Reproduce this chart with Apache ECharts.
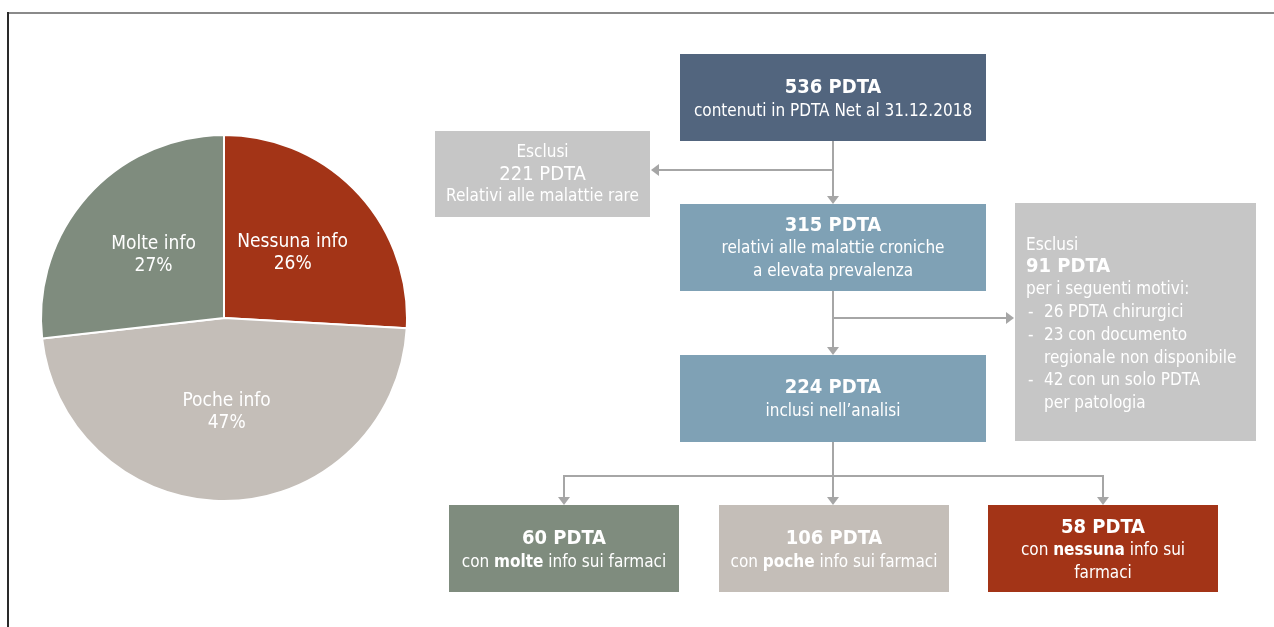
<!DOCTYPE html>
<html>
<head>
<meta charset="utf-8">
<script src="https://cdn.jsdelivr.net/npm/echarts@6/dist/echarts.min.js"></script>
<style>
  html, body { margin: 0; padding: 0; background: #fff; }
  #chart { width: 1274px; height: 627px; }
</style>
</head>
<body>
<div id="chart"></div>
<script>
// dati della torta (numero di PDTA per livello di informazione)
const sliceNames = ['Nessuna info', 'Poche info', 'Molte info'];
const sliceCounts = [58, 106, 60];

// testi del diagramma di flusso
const topBoxLines = ['536 PDTA', 'contenuti in PDTA Net al 31.12.2018'];
const excl1Lines = ['Esclusi', '221 PDTA', 'Relativi alle malattie rare'];
const chronicLines = ['315 PDTA', 'relativi alle malattie croniche', 'a elevata prevalenza'];
const excl2Lines = ['Esclusi', '91 PDTA', 'per i seguenti motivi:'];
const excl2Reasons = [
    ['26 PDTA chirurgici'],
    ['23 con documento', 'regionale non disponibile'],
    ['42 con un solo PDTA', 'per patologia']
];
const includedLines = ['224 PDTA', 'inclusi nell\u2019analisi'];
const resultCounts = ['60 PDTA', '106 PDTA', '58 PDTA'];
const resultWords = ['molte', 'poche', 'nessuna'];

// colori
const colors = {
    nessuna: '#a33417',
    poche: '#c4beb8',
    molte: '#7f8c7e',
    top: '#52657e',
    blue: '#7fa1b5',
    grey: '#c6c6c6',
    arrow: '#a6a6a6'
};
const sliceColors = [colors.nessuna, colors.poche, colors.molte];
const FONT = "'Liberation Sans Narrow', 'DejaVu Sans Condensed', sans-serif";

const chart = echarts.init(document.getElementById('chart'));

// rettangolo con testo centrato
function box(x, y, w, h, fill, text, rich, dy) {
    return {
        type: 'group',
        children: [
            { type: 'rect', shape: { x: x, y: y, width: w, height: h }, style: { fill: fill } },
            {
                type: 'text',
                x: x + w / 2,
                y: y + h / 2 + (dy || 0),
                style: {
                    text: text,
                    rich: rich,
                    fill: '#fff',
                    font: '17px ' + FONT,
                    lineHeight: 23,
                    align: 'center',
                    verticalAlign: 'middle'
                }
            }
        ]
    };
}

function line(points, color, width) {
    return { type: 'polyline', shape: { points: points }, style: { stroke: color || colors.arrow, lineWidth: width || 2, fill: null } };
}

// punta di freccia: dir = 'down' | 'left' | 'right'
function head(x, y, dir) {
    let pts;
    if (dir === 'down') pts = [[x - 6, y - 8], [x + 6, y - 8], [x, y]];
    else if (dir === 'left') pts = [[x + 8, y - 6], [x + 8, y + 6], [x, y]];
    else pts = [[x - 8, y - 6], [x - 8, y + 6], [x, y]];
    return { type: 'polygon', shape: { points: pts }, style: { fill: colors.arrow } };
}

const richBold = {
    b: { fontFamily: FONT, fontSize: 20, fontWeight: 'bold', fill: '#fff', lineHeight: 24 },
    n: { fontFamily: FONT, fontSize: 17, fill: '#fff', lineHeight: 23 },
    s: { fontFamily: FONT, fontSize: 17, fontWeight: 'bold', fill: '#fff', lineHeight: 23 }
};

function titled(lines) {
    return '{b|' + lines[0] + '}\n' + lines.slice(1).map(function(l) { return '{n|' + l + '}'; }).join('\n');
}

function plain(x, y, txt, size, bold) {
    return {
        type: 'text', x: x, y: y,
        style: {
            text: txt, fill: '#fff', fontFamily: FONT, fontSize: size,
            fontWeight: bold ? 'bold' : 'normal', align: 'left', verticalAlign: 'middle'
        }
    };
}

const cx = 833;
const graphic = [
    // cornice
    line([[7, 13], [1274, 13]], '#8a8a8a', 2),
    line([[8, 12], [8, 627]], '#2a2a2a', 2),
    // riquadri
    box(680, 54, 306, 87, colors.top, titled(topBoxLines), richBold, 2),
    box(435, 131, 215, 86, colors.grey,
        '{n|' + excl1Lines[0] + '}\n{b|' + excl1Lines[1] + '}\n{n|' + excl1Lines[2] + '}',
        { b: { fontFamily: FONT, fontSize: 20, fill: '#fff', lineHeight: 22 }, n: { fontFamily: FONT, fontSize: 17, fill: '#fff', lineHeight: 22 } }, 1),
    box(680, 204, 306, 87, colors.blue, titled(chronicLines), richBold, 1),
    box(680, 355, 306, 87, colors.blue, titled(includedLines), richBold, 1),
    { type: 'rect', shape: { x: 1015, y: 203, width: 241, height: 238 }, style: { fill: colors.grey } },
    plain(1026, 246, excl2Lines[0], 17),
    plain(1026, 267, excl2Lines[1], 20, true),
    plain(1026, 290, excl2Lines[2], 17)
];

// motivi di esclusione: trattino + testo rientrato
let rowY = 313;
excl2Reasons.forEach(function(r) {
    graphic.push(plain(1028, rowY, '-', 17));
    r.forEach(function(t) {
        graphic.push(plain(1044, rowY, t, 17));
        rowY += 22.6;
    });
});

// riquadri finali
const resultX = [449, 719, 988];
const resultColors = [colors.molte, colors.poche, colors.nessuna];
resultCounts.forEach(function(c, i) {
    let txt = '{b|' + c + '}\n{n|con }{s|' + resultWords[i] + '}{n| info sui farmaci}';
    if (i === 2) txt = '{b|' + c + '}\n{n|con }{s|' + resultWords[i] + '}{n| info sui}\n{n|farmaci}';
    graphic.push(box(resultX[i], 505, 230, 87, resultColors[i], txt, richBold, 2));
});

// frecce
graphic.push(
    line([[cx, 141], [cx, 197]]), head(cx, 204, 'down'),
    line([[cx, 170], [659, 170]]), head(651, 170, 'left'),
    line([[cx, 291], [cx, 348]]), head(cx, 355, 'down'),
    line([[cx, 318], [1006, 318]]), head(1014, 318, 'right'),
    line([[cx, 442], [cx, 498]]), head(cx, 505, 'down'),
    line([[564, 498], [564, 476], [1103, 476], [1103, 498]]),
    head(564, 505, 'down'), head(1103, 505, 'down')
);

const option = {
    animation: false,
    graphic: graphic,
    series: [{
        type: 'pie',
        center: [224, 318],
        radius: 183,
        startAngle: 90,
        clockwise: true,
        itemStyle: { borderColor: '#fff', borderWidth: 2 },
        label: {
            show: true,
            position: 'inside',
            color: '#fff',
            fontFamily: FONT,
            fontSize: 19,
            lineHeight: 22,
            formatter: function(p) {
                return p.name + '\n' + Math.round(p.percent) + '%';
            }
        },
        labelLine: { show: false },
        emphasis: { disabled: true },
        data: sliceNames.map(function(n, i) {
            return { name: n, value: sliceCounts[i], itemStyle: { color: sliceColors[i] } };
        })
    }]
};

chart.setOption(option);
</script>
</body>
</html>
